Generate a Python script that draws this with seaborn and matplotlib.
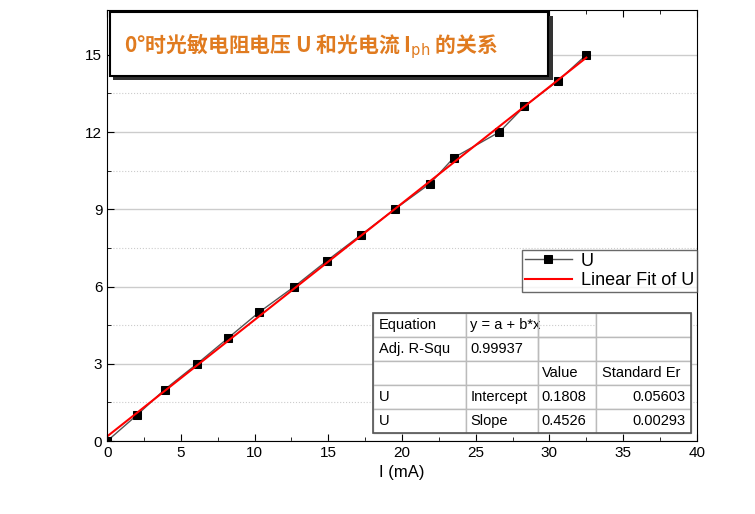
import matplotlib
matplotlib.use("Agg")
import matplotlib.pyplot as plt
import seaborn as sns
import numpy as np
import pandas as pd
from matplotlib.patches import Rectangle

current_mA = [0, 2.0, 3.9, 6.1, 8.2, 10.3, 12.7, 14.9, 17.2, 19.5, 21.9, 23.5, 26.6, 28.3, 30.6, 32.5]
voltage_U = [0, 1, 2, 3, 4, 5, 6, 7, 8, 9, 10, 11, 12, 13, 14, 15]
intercept = 0.1808
slope = 0.4526
table_rows = [["Equation", "y = a + b*x", "", ""],
              ["Adj. R-Squ", "0.99937", "", ""],
              ["", "", "Value", "Standard Er"],
              ["U", "Intercept", "0.1808", "0.05603"],
              ["U", "Slope", "0.4526", "0.00293"]]

plt.rcParams["font.family"] = ["Liberation Sans", "Noto Sans CJK SC"]
fig = plt.figure(figsize=(7.55, 5.14), dpi=100)
ax = fig.add_axes([0.142, 0.142, 0.781, 0.839])
df = pd.DataFrame({"I": current_mA, "U": voltage_U})
sns.lineplot(data=df, x="I", y="U", ax=ax, color="#555555", lw=1, marker="s",
             markersize=6, markerfacecolor="black", markeredgecolor="black", label="U")
xf = np.array([0, max(current_mA)])
ax.plot(xf, intercept + slope * xf, color="red", lw=1.5, label="Linear Fit of U")
ax.set_xlim(0, 40)
ax.set_ylim(0, 16.75)
ax.set_xticks(range(0, 41, 5))
ax.set_yticks(range(0, 16, 3))
ax.set_yticks(np.arange(1.5, 16.5, 3), minor=True)
ax.set_xticks(np.arange(2.5, 40, 5), minor=True)
ax.grid(True, axis="y", which="major", color="#cccccc", lw=1)
ax.grid(True, axis="y", which="minor", color="#cccccc", lw=0.8, ls=":")
ax.tick_params(which="both", direction="in", top=True, right=False, labelsize=11)
ax.tick_params(which="major", length=5)
ax.tick_params(which="minor", length=3)
ax.set_xlabel("I (mA)", fontsize=12)
ax.set_ylabel("")
for s in ax.spines.values():
    s.set_color("black")
leg = ax.legend(loc="upper right", bbox_to_anchor=(1.0, 0.443), fontsize=13, frameon=True,
                fancybox=False, edgecolor="#444444", handlelength=2.6, borderpad=0.15,
                labelspacing=0.15, handletextpad=0.5, borderaxespad=0)
leg.get_frame().set_linewidth(1)
tb = ax.table(cellText=table_rows, bbox=[0.451, 0.018, 0.539, 0.28],
              colWidths=[93, 72, 58, 95], zorder=5)
tb.auto_set_font_size(False)
for (r, c), cell in tb.get_celld().items():
    cell.set_fontsize(10.5)
    cell.set_edgecolor("#bbbbbb")
    cell.set_facecolor("none" if (c == 2 and r <= 1) else "white")
    cell.set_text_props(ha="right" if (c == 3 and r >= 3) else "left")
    cell.PAD = 0.06
box = Rectangle((0.451, 0.018), 0.539, 0.28, transform=ax.transAxes, fill=False,
                edgecolor="#555555", lw=1.2, zorder=6)
ax.add_patch(box)
fig.patches.append(Rectangle((113/755, 1-80/514), 440/755, 64/514, transform=fig.transFigure,
                             facecolor="#333333", edgecolor="none", zorder=9))
fig.patches.append(Rectangle((110/755, 1-76/514), 438/755, 64/514, transform=fig.transFigure,
                             facecolor="white", edgecolor="black", lw=1.5, zorder=10))
fig.text(124/755, 1-46/514, "0°时光敏电阻电压 U 和光电流 I$_{\\rm ph}$ 的关系",
         fontsize=15, fontweight="bold", color="#e07b20", va="center",
         family="Noto Sans CJK SC", zorder=11)
fig.savefig("out.png", dpi=100)
